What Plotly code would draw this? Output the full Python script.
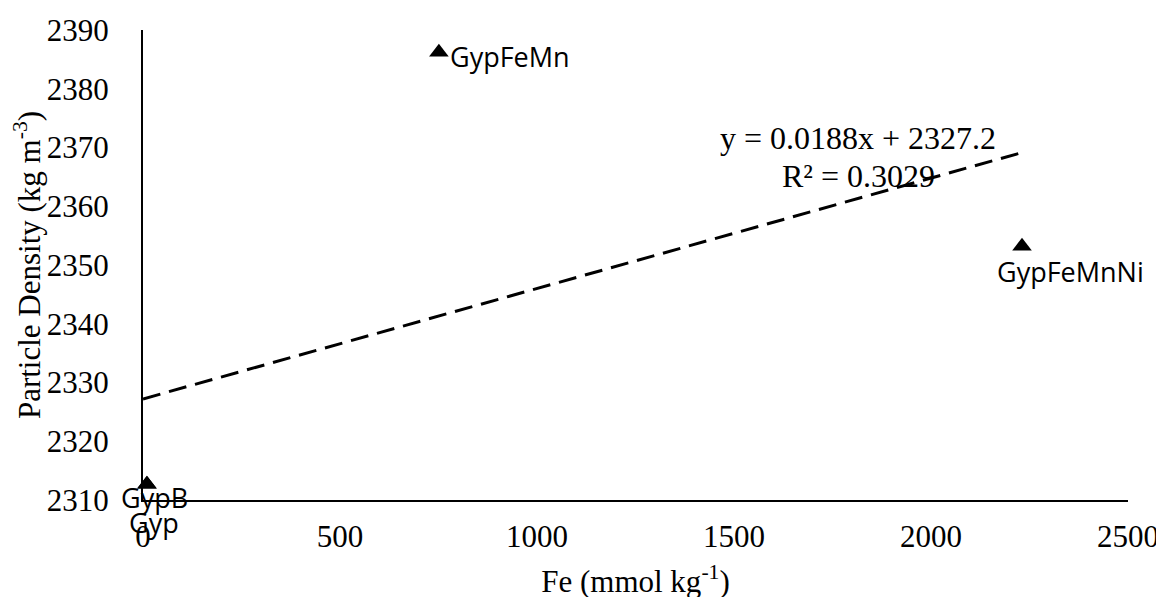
import plotly.graph_objects as go

# Data
names = ["Gyp", "GypB", "GypFeMn", "GypFeMnNi"]
fe = [10, 10, 751, 2231]
density = [2312.7, 2312.7, 2386.2, 2353.2]

# Trendline as printed on the chart
slope = 0.0188
intercept = 2327.2
r2 = 0.3029

x_ticks = [0, 500, 1000, 1500, 2000, 2500]
y_ticks = [2310, 2320, 2330, 2340, 2350, 2360, 2370, 2380, 2390]

# label placement in pixels (style only)
label_style = {
    "Gyp": ("center", 7, -38),
    "GypB": ("center", 8, -13),
    "GypFeMn": ("left", 9, -4),
    "GypFeMnNi": ("center", 48, -25),
}

serif = "Liberation Serif, Times New Roman, serif"
sans = "Open Sans, Carlito, Calibri, sans-serif"

fig = go.Figure()

trend_x = [0, max(fe)]
trend_y = [slope * v + intercept for v in trend_x]
fig.add_trace(go.Scatter(
    x=trend_x, y=trend_y, mode="lines",
    line=dict(color="black", width=3, dash="18px,9px"),
    hoverinfo="skip", showlegend=False,
))

fig.add_trace(go.Scatter(
    x=fe, y=density, mode="markers",
    marker=dict(symbol="triangle-up", size=17, color="black"),
    text=names, showlegend=False, cliponaxis=False,
))

for n, xv, yv in zip(names, fe, density):
    anchor, dx, dy = label_style[n]
    fig.add_annotation(
        x=xv, y=yv, text=n, showarrow=False,
        xshift=dx, yshift=dy, xanchor=anchor, yanchor="middle",
        font=dict(family=sans, size=27, color="black"),
    )

fig.add_annotation(
    x=1815, y=2371.7, text=f"y = {slope}x + {intercept}", showarrow=False,
    xanchor="center", yanchor="middle",
    font=dict(family=serif, size=32, color="black"),
)
fig.add_annotation(
    x=1815, y=2365.2, text=f"R² = {r2}", showarrow=False,
    xanchor="center", yanchor="middle",
    font=dict(family=serif, size=32, color="black"),
)

# page body adds an 8px offset; margins compensate
fig.update_layout(
    width=1164, height=597,
    margin=dict(l=135, r=44, t=22, b=105),
    paper_bgcolor="white", plot_bgcolor="white",
    font=dict(family=serif, size=31, color="black"),
    showlegend=False,
)

fig.update_xaxes(
    range=[0, 2500], tickvals=x_ticks, ticktext=[str(v) for v in x_ticks],
    showgrid=False, zeroline=False, automargin=False,
    showline=True, linecolor="black", linewidth=2,
    ticks="", ticklabelstandoff=8,
    tickfont=dict(family=serif, size=31, color="black"),
    title=dict(text="Fe (mmol kg<sup>-1</sup>)", font=dict(family=serif, size=31), standoff=17),
)
fig.update_yaxes(
    range=[2310, 2390], tickvals=y_ticks, ticktext=[str(v) for v in y_ticks],
    showgrid=False, zeroline=False, automargin=False,
    showline=True, linecolor="black", linewidth=2,
    ticks="", ticklabelstandoff=26,
    tickfont=dict(family=serif, size=31, color="black"),
    title=dict(text="Particle Density (kg m<sup>-3</sup>)", font=dict(family=serif, size=31), standoff=7),
)

fig.write_html("out.html")
